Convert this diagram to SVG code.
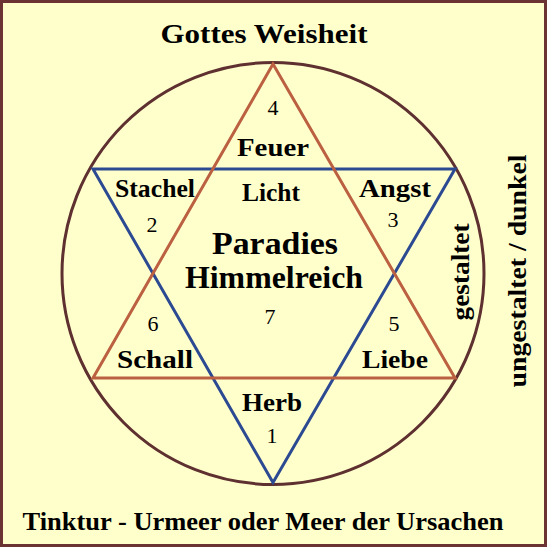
<svg xmlns="http://www.w3.org/2000/svg" width="547" height="547" viewBox="0 0 547 547">
<style>
text{font-family:"Liberation Serif","DejaVu Serif",serif;font-weight:bold;fill:#000;text-anchor:middle}
.lbl{font-size:25px}
.num{font-size:22px;font-weight:normal}
.big{font-size:32px}
.title{font-size:28px}
</style>
<rect x="1.5" y="1.5" width="544" height="544" fill="#ffffcc" stroke="#6b3333" stroke-width="3"/>
<g id="circle"><circle cx="273" cy="273.5" r="211" fill="none" stroke="#5e3030" stroke-width="3"/></g>
<g id="connectors">
<polygon id="tri-down" points="93,169 455,169 273,482.5" fill="none" stroke="#2c4a92" stroke-width="3"/>
<polygon id="tri-up" points="273,64 93,378 455,378" fill="none" stroke="#bb6040" stroke-width="3"/>
</g>
<g id="title"><text class="title" x="264" y="43" textLength="207" lengthAdjust="spacingAndGlyphs">Gottes Weisheit</text></g>
<g id="feuer"><text class="num" x="273" y="115">4</text><text class="lbl" x="273" y="156" textLength="72" lengthAdjust="spacingAndGlyphs">Feuer</text></g>
<g id="stachel"><text class="lbl" x="155" y="197" textLength="80" lengthAdjust="spacingAndGlyphs">Stachel</text><text class="num" x="152" y="232">2</text></g>
<g id="licht"><text class="lbl" x="271" y="201" textLength="58" lengthAdjust="spacingAndGlyphs">Licht</text></g>
<g id="angst"><text class="lbl" x="395" y="197" textLength="72" lengthAdjust="spacingAndGlyphs">Angst</text><text class="num" x="393" y="227">3</text></g>
<g id="paradies"><text class="big" x="275" y="254" textLength="126" lengthAdjust="spacingAndGlyphs">Paradies</text><text class="big" x="274" y="288" textLength="178" lengthAdjust="spacingAndGlyphs">Himmelreich</text><text class="num" x="270" y="324">7</text></g>
<g id="schall"><text class="num" x="153" y="331">6</text><text class="lbl" x="155" y="368" textLength="76" lengthAdjust="spacingAndGlyphs">Schall</text></g>
<g id="liebe"><text class="num" x="394" y="331">5</text><text class="lbl" x="395" y="368" textLength="66" lengthAdjust="spacingAndGlyphs">Liebe</text></g>
<g id="herb"><text class="lbl" x="272" y="411" textLength="60" lengthAdjust="spacingAndGlyphs">Herb</text><text class="num" x="272" y="443">1</text></g>
<g id="gestaltet"><text class="lbl" transform="translate(469,272) rotate(-90)" textLength="97" lengthAdjust="spacingAndGlyphs">gestaltet</text></g>
<g id="ungestaltet"><text class="lbl" transform="translate(526,271) rotate(-90)" textLength="233" lengthAdjust="spacingAndGlyphs">ungestaltet / dunkel</text></g>
<g id="footer"><text class="lbl" x="263" y="530" textLength="481" lengthAdjust="spacingAndGlyphs" style="font-size:25px">Tinktur - Urmeer oder Meer der Ursachen</text></g>
</svg>
